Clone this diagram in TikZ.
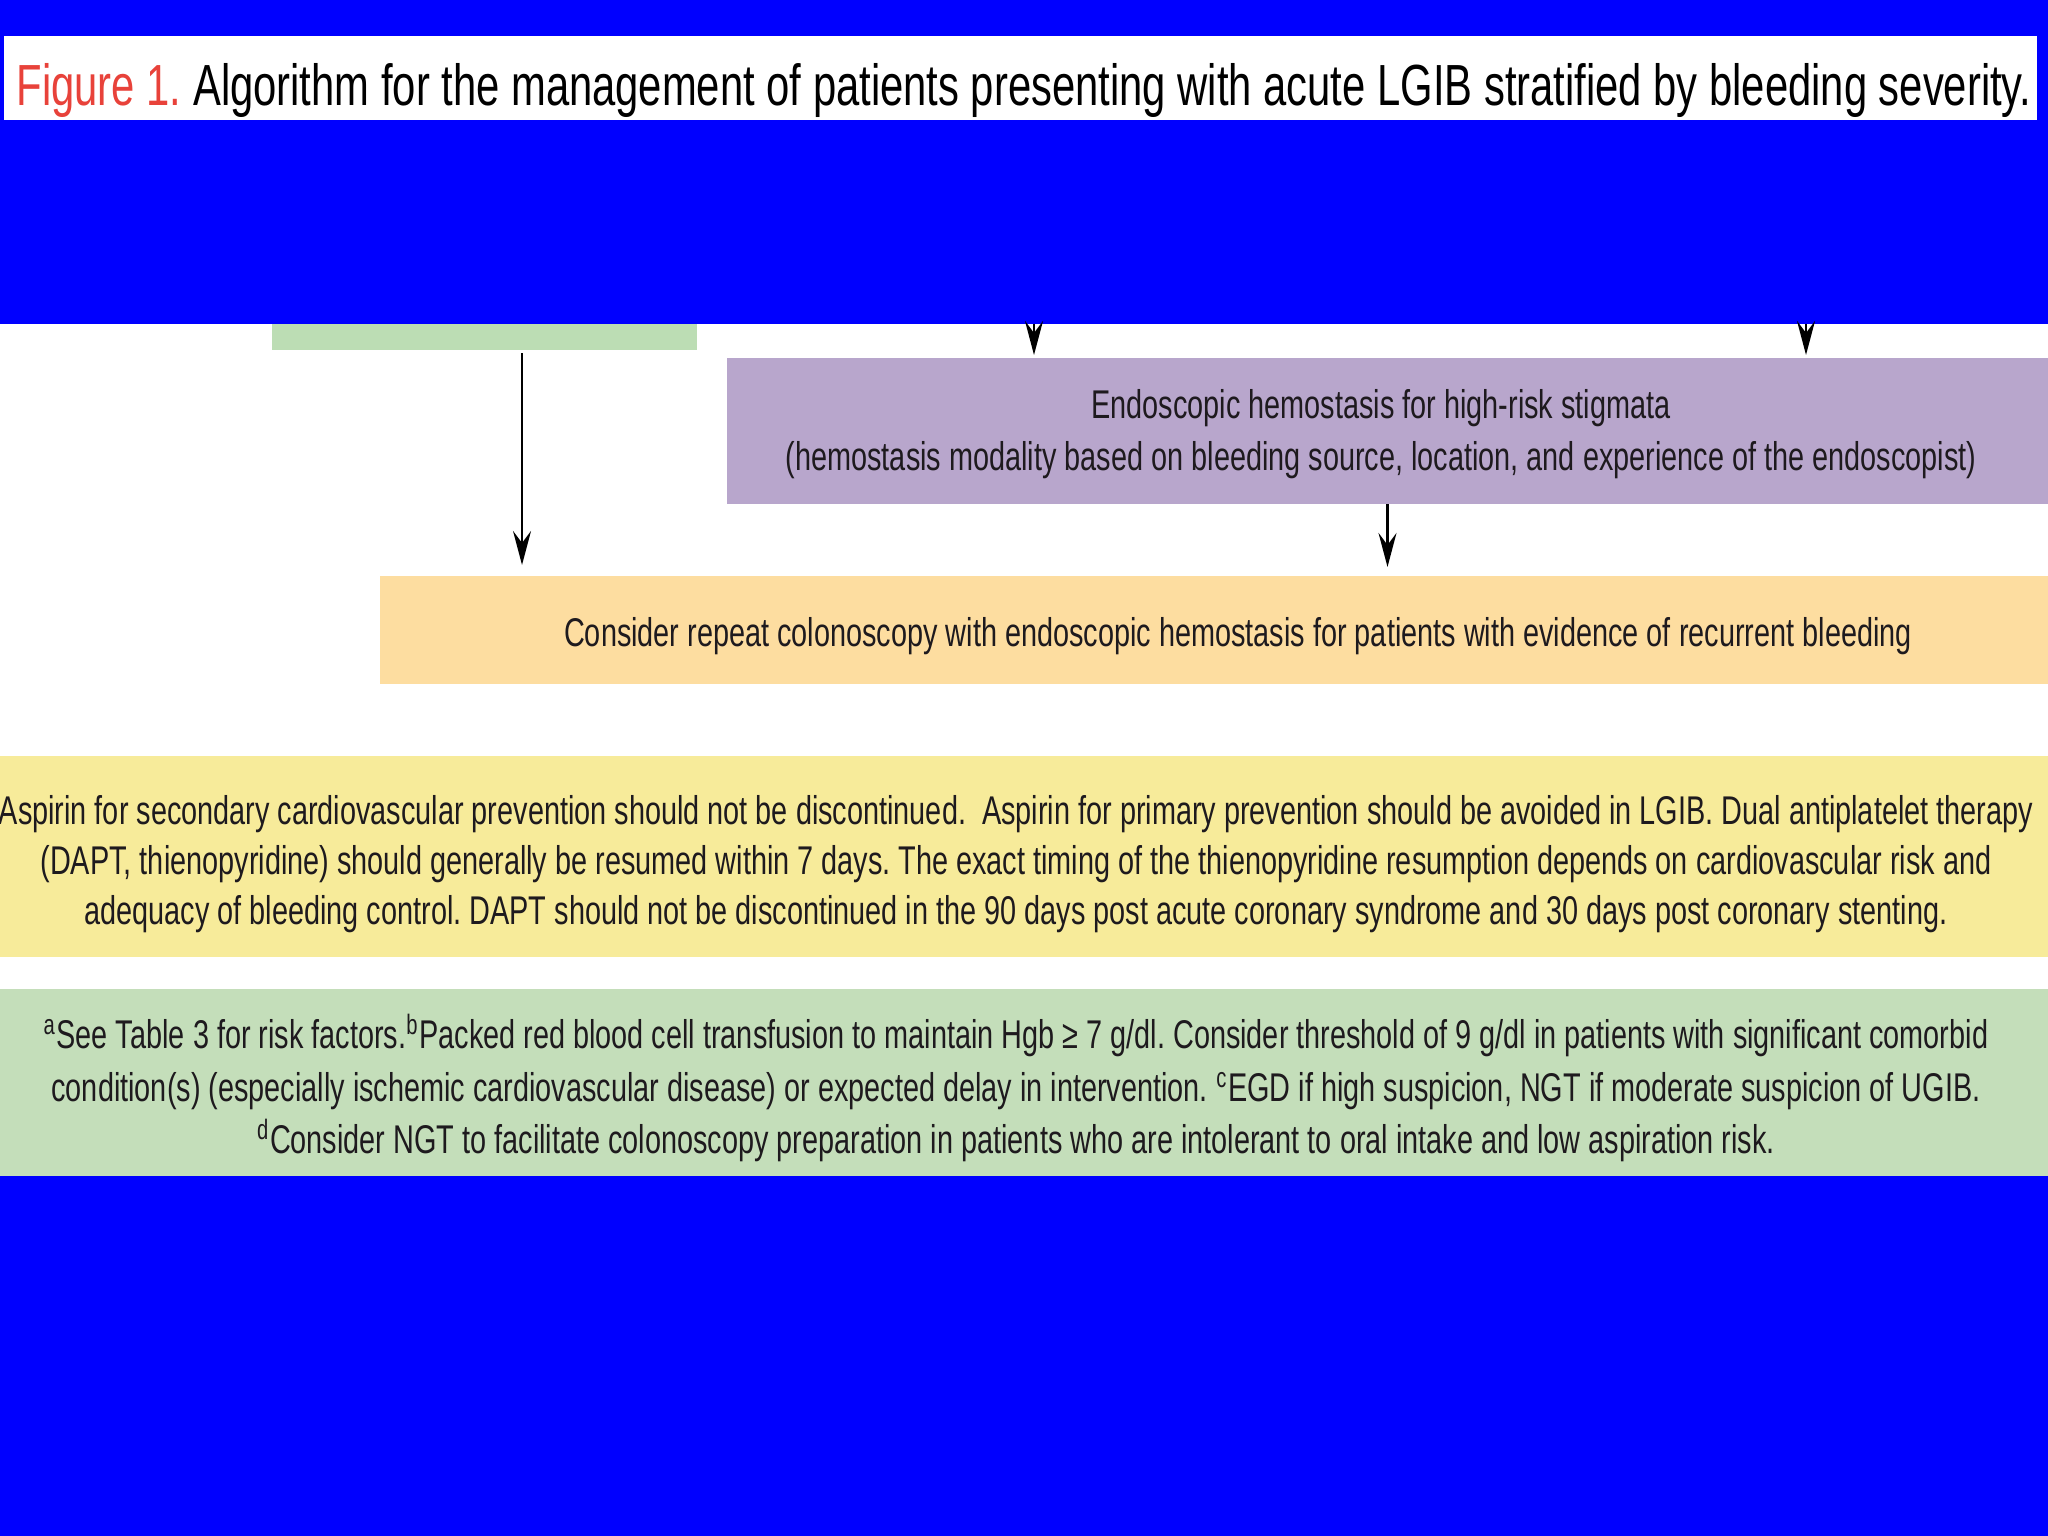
\documentclass[tikz,border=0pt]{standalone}
\usepackage{fontspec}
\setmainfont{Liberation Sans}[FakeStretch=0.72]
\usetikzlibrary{arrows.meta}
\frenchspacing
\definecolor{slideblue}{RGB}{0,0,255}
\definecolor{titlered}{RGB}{232,66,58}
\definecolor{boxgreen}{RGB}{188,221,180}
\definecolor{boxpurple}{RGB}{184,166,204}
\definecolor{boxorange}{RGB}{253,221,160}
\definecolor{boxyellow}{RGB}{247,235,154}
\definecolor{notegreen}{RGB}{196,222,186}
\definecolor{inktext}{RGB}{30,26,30}
\tikzset{
  panel/.style={rectangle, inner sep=0pt, outer sep=0pt, draw=none},
  paneltext/.style={inner sep=0pt, outer sep=0pt, text=inktext, align=center},
  arr/.style={line width=0.6pt, black, -{Stealth[length=0.34cm, width=0.18cm, inset=0.12cm]}},
}
\begin{document}
\begin{tikzpicture}[x=0.01cm, y=-0.01cm]
\useasboundingbox (0,0) rectangle (2048,1536);
\fill[slideblue] (0,0) rectangle (2048,1536);
\fill[white] (4,36) rectangle (2037,120);
\fill[white] (0,324) rectangle (2048,1176);

\node[anchor=west, inner sep=0pt, font=\fontsize{16.5}{20}\selectfont] (title) at (16,90)
  {\textcolor{titlered}{Figure 1.} Algorithm for the management of patients presenting with acute LGIB stratified by bleeding severity.};

% boxes
\node[panel, fill=boxgreen, minimum width=4.25cm, minimum height=0.26cm] (green) at (484.5,337) {};
\node[panel, fill=boxpurple, minimum width=13.21cm, minimum height=1.46cm] (purple) at (1387.5,431) {};
\node[panel, fill=boxorange, minimum width=16.68cm, minimum height=1.08cm] (orange) at (1214,630) {};
\node[panel, fill=boxyellow, minimum width=20.48cm, minimum height=2.01cm] (yellow) at (1024,856.5) {};
\node[panel, fill=notegreen, minimum width=20.48cm, minimum height=1.87cm] (notes) at (1024,1082.5) {};

% texts
\node[paneltext, font=\fontsize{11.4}{14.8}\selectfont] (purple-t) at (1381,434)
  {Endoscopic hemostasis for high-risk stigmata\\(hemostasis modality based on bleeding source, location, and experience of the endoscopist)};

\node[paneltext, font=\fontsize{11.4}{14.2}\selectfont] (orange-t) at (1238,636)
  {Consider repeat colonoscopy with endoscopic hemostasis for patients with evidence of recurrent bleeding};

\node[paneltext, font=\fontsize{11.4}{14.2}\selectfont] (yellow-t) at (1016,864)
  {Aspirin for secondary cardiovascular prevention should not be discontinued.\ \ Aspirin for primary prevention should be avoided in LGIB. Dual antiplatelet therapy\\
   (DAPT, thienopyridine) should generally be resumed within 7 days. The exact timing of the thienopyridine resumption depends on cardiovascular risk and\\
   adequacy of bleeding control. DAPT should not be discontinued in the 90 days post acute coronary syndrome and 30 days post coronary stenting.};

\node[paneltext, font=\fontsize{11.4}{14.9}\selectfont] (notes-t) at (1016,1088)
  {\textsuperscript{a}See Table 3 for risk factors.\textsuperscript{b}Packed red blood cell transfusion to maintain Hgb ≥ 7 g/dl. Consider threshold of 9 g/dl in patients with significant comorbid\\
   condition(s) (especially ischemic cardiovascular disease) or expected delay in intervention. \textsuperscript{c}EGD if high suspicion, NGT if moderate suspicion of UGIB.\\
   \textsuperscript{d}Consider NGT to facilitate colonoscopy preparation in patients who are intolerant to oral intake and low aspiration risk.};

% connectors
\coordinate (in1) at (1034,324);
\coordinate (in2) at (1806,324);
\draw[arr, shorten >=0.03cm] (in1) -- (in1 |- purple.north);
\draw[arr, shorten >=0.03cm] (in2) -- (in2 |- purple.north);
\draw[arr, shorten <=0.03cm, shorten >=0.11cm] ([xshift=0.375cm]green.south) -- ([xshift=0.375cm]green.south |- orange.north);
\draw[arr, shorten >=0.09cm] (purple.south) -- (purple.south |- orange.north);
\end{tikzpicture}
\end{document}
